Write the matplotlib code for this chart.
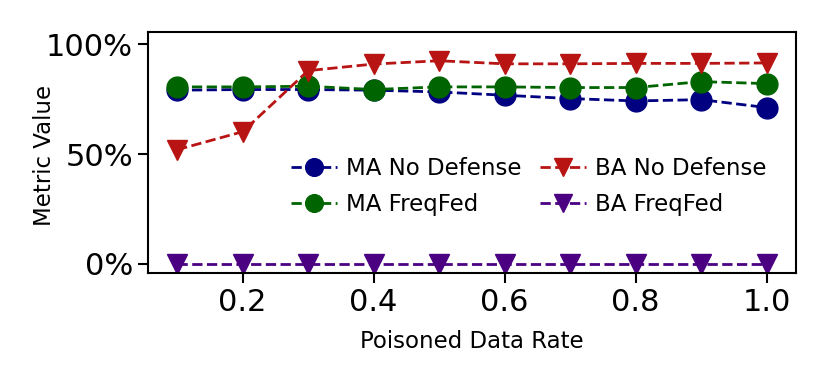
import matplotlib
matplotlib.use('Agg')
import matplotlib.pyplot as plt
from matplotlib.ticker import PercentFormatter

# Data
rates = [0.1, 0.2, 0.3, 0.4, 0.5, 0.6, 0.7, 0.8, 0.9, 1.0]
ma_no_defense = [0.791, 0.794, 0.794, 0.791, 0.783, 0.768, 0.753, 0.742, 0.748, 0.712]
ba_no_defense = [0.52, 0.602, 0.88, 0.91, 0.925, 0.911, 0.911, 0.913, 0.913, 0.915]
ma_freqfed = [0.806, 0.806, 0.809, 0.794, 0.806, 0.806, 0.803, 0.803, 0.83, 0.821]
ba_freqfed = [0.0, 0.0, 0.0, 0.0, 0.0, 0.0, 0.0, 0.0, 0.0, 0.0]

fig = plt.figure(figsize=(8.3, 3.88), dpi=100)
ax = fig.add_axes([0.178, 0.296, 0.781, 0.621])

ax.plot(rates, ma_no_defense, '--o', color='navy', lw=2, ms=15, label='MA No Defense')
ax.plot(rates, ma_freqfed, '--o', color='darkgreen', lw=2, ms=15, label='MA FreqFed')
ax.plot(rates, ba_no_defense, '--v', color='#b81414', lw=2, ms=15, label='BA No Defense')
ax.plot(rates, ba_freqfed, '--v', color='indigo', lw=2, ms=15, label='BA FreqFed')

ax.set_ylim(-0.042, 1.055)
ax.set_yticks([0, 0.5, 1.0])
ax.yaxis.set_major_formatter(PercentFormatter(1.0, decimals=0))
ax.set_xticks([0.2, 0.4, 0.6, 0.8, 1.0])
ax.tick_params(labelsize=22, width=1.5, length=7)
for s in ax.spines.values():
    s.set_linewidth(1.5)

ax.set_xlabel('Poisoned Data Rate', fontsize=16.5)
ax.set_ylabel('Metric Value', fontsize=16.5)
ax.xaxis.set_label_coords(0.5, -0.238)
ax.yaxis.set_label_coords(-0.142, 0.49)

ax.legend(ncol=2, frameon=False, fontsize=16.5, loc='center',
          bbox_to_anchor=(0.588, 0.36),
          handlelength=2.0, columnspacing=0.8, handletextpad=0.4,
          labelspacing=0.6, markerscale=0.85)

fig.savefig('out.png', dpi=100)
